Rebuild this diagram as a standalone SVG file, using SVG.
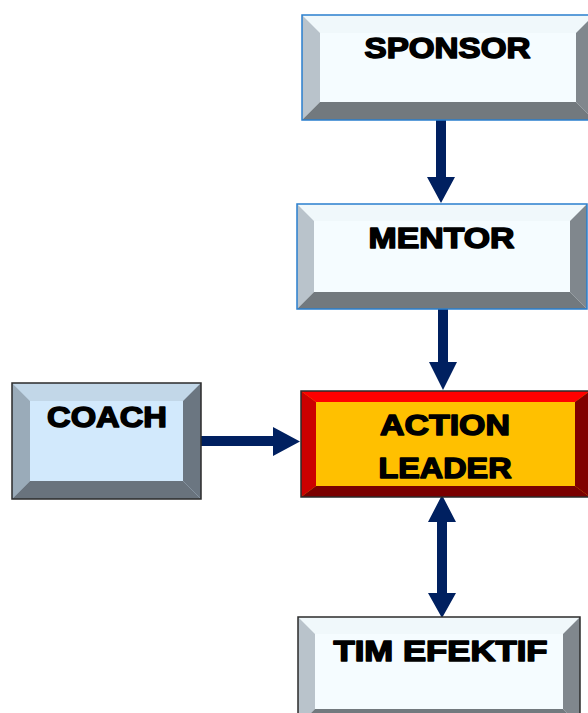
<svg xmlns="http://www.w3.org/2000/svg" width="588" height="713" viewBox="0 0 588 713">
<style>
.lbl{font-family:"Liberation Sans",Arial,sans-serif;font-weight:bold;font-size:29px;fill:#000;stroke:#000;stroke-width:1.5;stroke-linejoin:round;text-anchor:middle}
.face-w{fill:#f5fcff}
.bt-g{fill:#f0f8fb}
.bl-g{fill:#b9c3cb}
.br-g{fill:#80878d}
.bb-g{fill:#72797e}
.bord-b{fill:none;stroke:#2a7fce;stroke-width:1.5}
.bord-d{fill:none;stroke:#2b2b2b;stroke-width:1.5}
.arr{fill:#002060}
</style>
<rect width="588" height="713" fill="#fff"/>
<g id="connectors">
<polygon class="arr" points="436,120 446,120 446,177 455,177 441,203 427,177 436,177"/>
<polygon class="arr" points="438,309 448,309 448,362 457,362 443,390 429,362 438,362"/>
<polygon class="arr" points="201,436 273,436 273,427 300,441.5 273,456 273,446 201,446"/>
<polygon class="arr" points="442,495 456,522 447,522 447,593 456,593 442,618 428,593 437,593 437,522 428,522"/>
</g>
<g id="sponsor">
<rect class="face-w" x="302" y="15" width="292" height="105"/>
<polygon class="bt-g" points="302,15 594,15 576,33 320,33"/>
<polygon class="bl-g" points="302,15 320,33 320,102 302,120"/>
<polygon class="br-g" points="594,15 594,120 576,102 576,33"/>
<polygon class="bb-g" points="302,120 320,102 576,102 594,120"/>
<rect class="bord-b" x="302" y="15" width="292" height="105"/>
<text class="lbl" x="447.5" y="58" textLength="166" lengthAdjust="spacingAndGlyphs">SPONSOR</text>
</g>
<g id="mentor">
<rect class="face-w" x="297" y="204" width="290" height="105"/>
<polygon class="bt-g" points="297,204 587,204 570,221 314,221"/>
<polygon class="bl-g" points="297,204 314,221 314,292 297,309"/>
<polygon class="br-g" points="587,204 587,309 570,292 570,221"/>
<polygon class="bb-g" points="297,309 314,292 570,292 587,309"/>
<rect class="bord-b" x="297" y="204" width="290" height="105"/>
<text class="lbl" x="441.5" y="248" textLength="146" lengthAdjust="spacingAndGlyphs">MENTOR</text>
</g>
<g id="coach">
<rect fill="#d2e9fc" x="12" y="383" width="189" height="116"/>
<polygon fill="#c2d7e8" points="12,383 201,383 183,401 30,401"/>
<polygon fill="#9aabb9" points="12,383 30,401 30,481 12,499"/>
<polygon fill="#6b7681" points="201,383 201,499 183,481 183,401"/>
<polygon fill="#69737d" points="12,499 30,481 183,481 201,499"/>
<rect class="bord-d" x="12" y="383" width="189" height="116"/>
<text class="lbl" x="107" y="427" textLength="120" lengthAdjust="spacingAndGlyphs">COACH</text>
</g>
<g id="action-leader">
<rect fill="#ffc000" x="301" y="391" width="289" height="106"/>
<polygon fill="#ff0000" points="301,391 590,391 575,402 316,402"/>
<polygon fill="#cc0000" points="301,391 316,402 316,486 301,497"/>
<polygon fill="#800000" points="590,391 590,497 575,486 575,402"/>
<polygon fill="#7a0000" points="301,497 316,486 575,486 590,497"/>
<rect class="bord-d" x="301" y="391" width="289" height="106"/>
<text class="lbl" x="445" y="435" textLength="130" lengthAdjust="spacingAndGlyphs">ACTION</text>
<text class="lbl" x="445" y="478" textLength="133" lengthAdjust="spacingAndGlyphs">LEADER</text>
</g>
<g id="tim-efektif">
<rect class="face-w" x="298" y="617" width="282" height="109"/>
<polygon class="bt-g" points="298,617 580,617 563,634 315,634"/>
<polygon class="bl-g" points="298,617 315,634 315,709 298,726"/>
<polygon class="br-g" points="580,617 580,726 563,709 563,634"/>
<polygon class="bb-g" points="298,726 315,709 563,709 580,726"/>
<rect class="bord-d" x="298" y="617" width="282" height="109"/>
<text class="lbl" x="440.5" y="661" textLength="214" lengthAdjust="spacingAndGlyphs">TIM EFEKTIF</text>
</g>
</svg>
